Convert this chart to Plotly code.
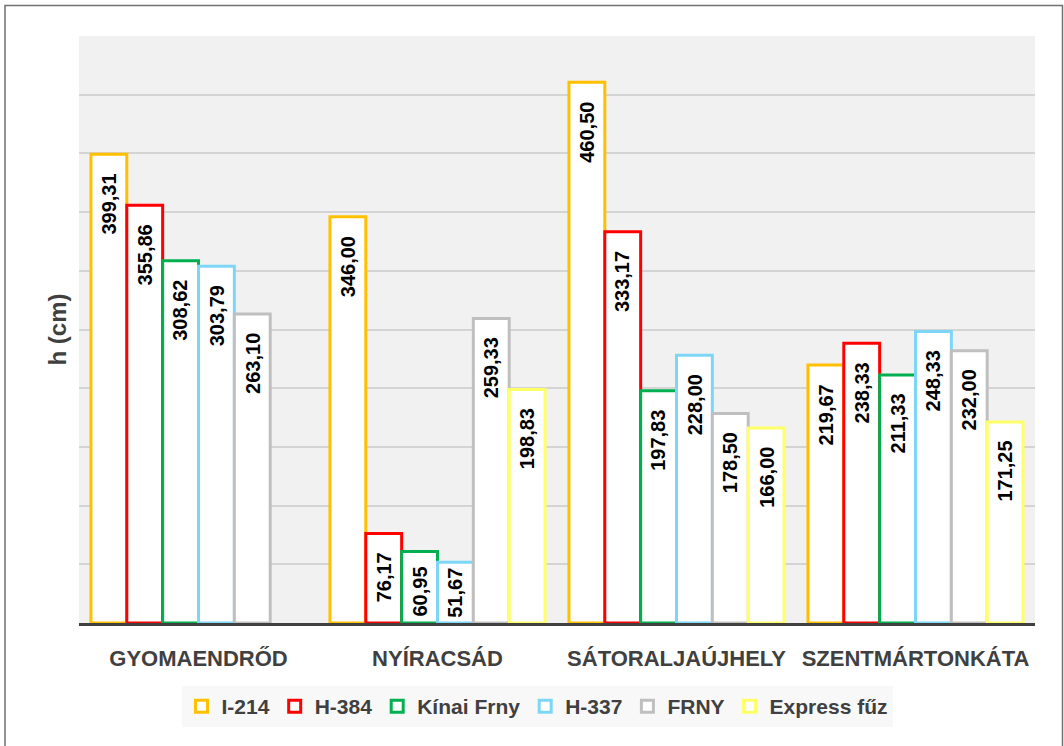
import plotly.graph_objects as go

# Sites (x categories) and clones (series)
sites = ["GYOMAENDRŐD", "NYÍRACSÁD", "SÁTORALJAÚJHELY", "SZENTMÁRTONKÁTA"]

i214 = [399.31, 346.00, 460.50, 219.67]
h384 = [355.86, 76.17, 333.17, 238.33]
kinai_frny = [308.62, 60.95, 197.83, 211.33]
h337 = [303.79, 51.67, 228.00, 248.33]
frny = [263.10, 259.33, 178.50, 232.00]
express_fuz = [None, 198.83, 166.00, 171.25]

series = [
    ("I-214", i214, "#FFC000"),
    ("H-384", h384, "#FF0000"),
    ("Kínai Frny", kinai_frny, "#00B050"),
    ("H-337", h337, "#7DD6F5"),
    ("FRNY", frny, "#BFBFBF"),
    ("Express fűz", express_fuz, "#FFFF66"),
]

FONT = "Liberation Sans, Arial, sans-serif"
Y_MAX = 500
PLOT_TOP, PLOT_BOTTOM = 36, 623
PLOT_LEFT, PLOT_RIGHT = 79, 1035
W, H = 1064, 746
LABEL_SIZE = 20
BARGAP = 0.1


def fmt(v):
    return f"{v:.2f}".replace(".", ",")


fig = go.Figure()
for name, vals, color in series:
    fig.add_trace(go.Bar(
        name=name,
        x=sites,
        y=vals,
        marker=dict(color="white", line=dict(color=color, width=3)),
        hoverinfo="x+y+name",
    ))

# Rotated value labels placed just inside the top of each bar
px_per_unit = (PLOT_BOTTOM - PLOT_TOP) / Y_MAX
n = len(series)
slot = (1 - BARGAP) / n
annotations = []
for si, (name, vals, color) in enumerate(series):
    for ci, v in enumerate(vals):
        if v is None:
            continue
        txt = fmt(v)
        text_len = sum(0.278 if ch == "," else 0.556 for ch in txt) * LABEL_SIZE
        bar_px = v * px_per_unit
        pad = min(17, max(3, bar_px - text_len - 8))
        annotations.append(dict(
            x=ci + (si - (n - 1) / 2) * slot,
            y=v,
            xref="x", yref="y",
            text=txt,
            showarrow=False,
            textangle=-90,
            yanchor="top",
            xanchor="center",
            yshift=-pad,
            font=dict(family=FONT, size=LABEL_SIZE, color="black", weight="bold"),
        ))

ph = PLOT_BOTTOM - PLOT_TOP
pw = PLOT_RIGHT - PLOT_LEFT
# Outer chart frame (bottom edge runs past the page)
frame = dict(
    type="rect", xref="paper", yref="paper",
    x0=(5 - PLOT_LEFT) / pw, x1=(1062.5 - PLOT_LEFT) / pw,
    y0=(PLOT_BOTTOM - 760) / ph, y1=(PLOT_BOTTOM - 5.5) / ph,
    line=dict(color="#707070", width=1.5),
    fillcolor="rgba(0,0,0,0)",
    layer="below",
)

fig.update_layout(
    width=W, height=H,
    margin=dict(l=PLOT_LEFT, r=W - PLOT_RIGHT, t=PLOT_TOP, b=H - PLOT_BOTTOM, autoexpand=False),
    paper_bgcolor="white",
    plot_bgcolor="#F1F1F1",
    barmode="group",
    bargap=BARGAP,
    bargroupgap=0,
    font=dict(family=FONT, color="#404040"),
    showlegend=True,
    legend=dict(
        orientation="h",
        x=(537 - PLOT_LEFT) / pw, xanchor="center",
        y=(PLOT_BOTTOM - 686) / ph, yanchor="top",
        bgcolor="#F8F8F8",
        font=dict(family=FONT, size=21, color="#404040", weight="bold"),
        itemwidth=30,
        traceorder="normal",
    ),
    annotations=annotations,
    shapes=[frame],
    xaxis=dict(
        showline=True, linecolor="#404040", linewidth=3,
        ticks="", showgrid=False,
        tickfont=dict(family=FONT, size=22, color="#404040", weight="bold"),
        ticklabelstandoff=14,
        automargin=False,
    ),
    yaxis=dict(
        range=[0, Y_MAX], dtick=50,
        showticklabels=False, ticks="",
        showgrid=True, gridcolor="#D4D4D4", gridwidth=1.5,
        zeroline=False,
        title=dict(text="h (cm)", standoff=4,
                   font=dict(family=FONT, size=24, color="#404040", weight="bold")),
        automargin=False,
    ),
)

fig.write_html("out.html")
